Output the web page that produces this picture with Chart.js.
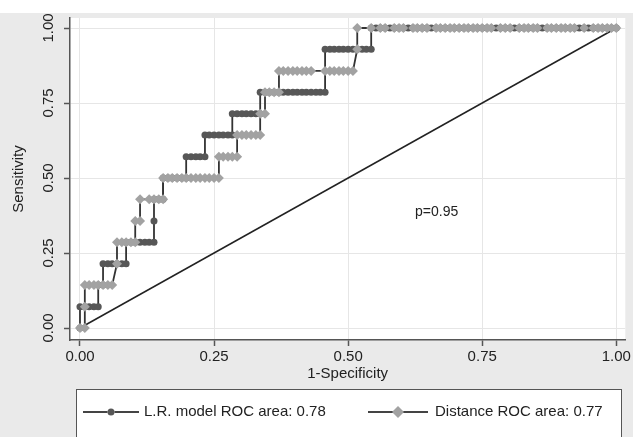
<!DOCTYPE html>
<html><head><meta charset="utf-8">
<script src="https://cdn.jsdelivr.net/npm/chart.js@4.4.1/dist/chart.umd.min.js"></script>
<style>html,body{margin:0;padding:0;background:#fff;}#wrap{width:633px;height:437px;}</style>
</head><body><div id="wrap"><canvas id="c" width="633" height="437"></canvas></div>
<script>
// ---- data ----
const xTickValues = [0, 0.25, 0.5, 0.75, 1];
const xTickLabels = ['0.00', '0.25', '0.50', '0.75', '1.00'];
const yTickValues = [0, 0.25, 0.5, 0.75, 1];
const yTickLabels = ['0.00', '0.25', '0.50', '0.75', '1.00'];
const xTitle = '1-Specificity';
const yTitle = 'Sensitivity';
const seriesNames = ['L.R. model ROC area: 0.78', 'Distance ROC area: 0.77'];
const pLabel = 'p=0.95';
const pLabelAt = [0.665, 0.387];
const referenceLine = [[0, 0], [1, 1]];

// L.R. model ROC curve: [1-specificity, sensitivity]
const lrCurve = [
  [0,0],
  [0,.071],[.009,.071],[.017,.071],[.026,.071],[.034,.071],
  [.034,.143],[.043,.143],
  [.043,.214],[.052,.214],[.060,.214],[.069,.214],[.078,.214],[.086,.214],
  [.086,.286],[.095,.286],[.103,.286],[.112,.286],[.121,.286],[.129,.286],[.138,.286],
  [.138,.357],
  [.138,.429],[.147,.429],[.155,.429],
  [.155,.5],[.164,.5],[.172,.5],[.181,.5],[.190,.5],[.198,.5],
  [.198,.571],[.207,.571],[.216,.571],[.224,.571],[.233,.571],
  [.233,.643],[.241,.643],[.250,.643],[.259,.643],[.267,.643],[.276,.643],[.284,.643],
  [.284,.714],[.293,.714],[.302,.714],[.310,.714],[.319,.714],[.328,.714],[.336,.714],
  [.336,.786],[.345,.786],[.353,.786],[.362,.786],[.371,.786],[.379,.786],[.388,.786],[.397,.786],[.405,.786],[.414,.786],[.422,.786],[.431,.786],[.440,.786],[.448,.786],[.457,.786],
  [.457,.929],[.466,.929],[.474,.929],[.483,.929],[.491,.929],[.500,.929],[.509,.929],[.517,.929],[.526,.929],[.534,.929],[.543,.929],
  [.543,1],[.552,1],[.560,1],[.569,1],[.578,1],[.586,1],[.595,1],[.603,1],[.612,1],[.621,1],[.629,1],[.638,1],[.647,1],[.655,1],[.664,1],[.672,1],[.681,1],[.690,1],[.698,1],[.707,1],[.716,1],[.724,1],[.733,1],[.741,1],[.750,1],[.759,1],[.767,1],[.776,1],[.784,1],[.793,1],[.802,1],[.810,1],[.819,1],[.828,1],[.836,1],[.845,1],[.853,1],[.862,1],[.871,1],[.879,1],[.888,1],[.897,1],[.905,1],[.914,1],[.922,1],[.931,1],[.940,1],[.948,1],[.957,1],[.966,1],[.974,1],[.983,1],[.991,1],[1,1]
];

// Distance ROC curve: [1-specificity, sensitivity]
const distCurve = [
  [0,0],[.009,0],
  [.009,.071],
  [.009,.143],[.017,.143],[.026,.143],[.034,.143],[.043,.143],[.052,.143],[.060,.143],
  [.069,.214],
  [.069,.286],[.078,.286],[.086,.286],[.095,.286],[.103,.286],
  [.103,.357],[.112,.357],
  [.112,.429],[.129,.429],[.138,.429],[.147,.429],[.155,.429],
  [.155,.5],[.164,.5],[.172,.5],[.181,.5],[.190,.5],[.198,.5],[.207,.5],[.216,.5],[.224,.5],[.233,.5],[.241,.5],[.250,.5],[.259,.5],
  [.259,.571],[.267,.571],[.276,.571],[.284,.571],[.293,.571],
  [.293,.643],[.302,.643],[.310,.643],[.319,.643],[.328,.643],[.336,.643],
  [.336,.714],[.345,.714],
  [.345,.786],[.353,.786],[.362,.786],[.371,.786],
  [.371,.857],[.379,.857],[.388,.857],[.397,.857],[.405,.857],[.414,.857],[.422,.857],[.431,.857],[.457,.857],[.466,.857],[.474,.857],[.483,.857],[.491,.857],[.500,.857],[.509,.857],
  [.517,.929],
  [.517,1],[.543,1],[.560,1],[.569,1],[.586,1],[.595,1],[.603,1],[.621,1],[.629,1],[.638,1],[.647,1],[.664,1],[.672,1],[.681,1],[.690,1],[.698,1],[.707,1],[.716,1],[.724,1],[.733,1],[.741,1],[.750,1],[.759,1],[.767,1],[.784,1],[.793,1],[.802,1],[.819,1],[.828,1],[.836,1],[.845,1],[.853,1],[.871,1],[.879,1],[.888,1],[.897,1],[.905,1],[.914,1],[.922,1],[.940,1],[.957,1],[.966,1],[.974,1],[.983,1],[.991,1],[1,1]
];

// ---- styles ----
const FONT = '"Liberation Sans", Arial, sans-serif';
const darkMarker = '#575757';
const lightMarker = '#a2a2a2';
const lineColor = '#333333';
const outerBg = '#eaeaea';

const framePlugin = {
  id: 'frame',
  beforeDraw(chart) {
    const {ctx, chartArea: a, width, height} = chart;
    ctx.save();
    ctx.fillStyle = '#ffffff';
    ctx.fillRect(0, 0, width, height);
    ctx.fillStyle = outerBg;
    ctx.fillRect(0, 13, width, height - 13);
    ctx.fillStyle = '#ffffff';
    ctx.fillRect(a.left, a.top, a.right - a.left, a.bottom - a.top);
    ctx.restore();
  },
  afterDatasetsDraw(chart) {
    const {ctx, scales} = chart;
    ctx.save();
    ctx.fillStyle = '#222';
    ctx.font = '14px ' + FONT;
    ctx.textAlign = 'center';
    ctx.textBaseline = 'middle';
    ctx.fillText(pLabel, scales.x.getPixelForValue(pLabelAt[0]), scales.y.getPixelForValue(pLabelAt[1]));
    ctx.restore();
  },
  afterDraw(chart) {
    const {ctx} = chart;
    ctx.save();
    // legend box
    ctx.fillStyle = '#ffffff';
    ctx.fillRect(76, 389, 546, 60);
    ctx.strokeStyle = '#555';
    ctx.lineWidth = 1;
    ctx.strokeRect(76.5, 389.5, 545, 60);
    const ly = 412;
    const ds = chart.data.datasets;
    // item 1
    ctx.strokeStyle = '#444';
    ctx.lineWidth = 2;
    ctx.beginPath(); ctx.moveTo(83, ly); ctx.lineTo(139, ly); ctx.stroke();
    Chart.helpers.drawPoint(ctx, {pointStyle: 'circle', radius: 3.5, borderWidth: 0, rotation: 0}, 111, ly);
    ctx.fillStyle = darkMarker;
    ctx.beginPath(); ctx.arc(111, ly, 3.5, 0, Math.PI * 2); ctx.fill();
    // item 2
    ctx.beginPath(); ctx.moveTo(368, ly); ctx.lineTo(428, ly); ctx.stroke();
    ctx.fillStyle = lightMarker;
    ctx.beginPath();
    ctx.moveTo(398, ly - 6); ctx.lineTo(404, ly); ctx.lineTo(398, ly + 6); ctx.lineTo(392, ly); ctx.closePath();
    ctx.fill();
    ctx.fillStyle = '#222';
    ctx.font = '15px ' + FONT;
    ctx.textAlign = 'left';
    ctx.textBaseline = 'middle';
    ctx.fillText(ds[1].label, 144, ly);
    ctx.fillText(ds[2].label, 435, ly);
    ctx.restore();
  }
};

const chart = new Chart(document.getElementById('c'), {
  type: 'line',
  data: {
    datasets: [
      { label: 'reference', data: referenceLine, borderColor: '#222', borderWidth: 1.5, pointRadius: 0, order: 3 },
      { label: seriesNames[0], data: lrCurve, borderColor: lineColor, borderWidth: 1.8,
        pointStyle: 'circle', pointRadius: 3.5, pointBackgroundColor: darkMarker, pointBorderWidth: 0, order: 2 },
      { label: seriesNames[1], data: distCurve, borderColor: lineColor, borderWidth: 1.8,
        pointStyle: 'rectRot', pointRadius: 5, pointBackgroundColor: lightMarker, pointBorderWidth: 0, order: 1 }
    ]
  },
  options: {
    responsive: false,
    animation: false,
    events: [],
    layout: { padding: { top: 18, right: 7, left: 0, bottom: 0 } },
    plugins: { legend: { display: false }, tooltip: { enabled: false }, title: { display: false } },
    scales: {
      x: {
        type: 'linear',
        min: -10 / 537, max: 1 + 9 / 537,
        afterBuildTicks: s => { s.ticks = xTickValues.map(v => ({ value: v })); },
        afterFit: s => { s.height = 97; },
        ticks: { autoSkip: false, maxRotation: 0, padding: 2, color: '#222', font: { family: FONT, size: 15 },
                 callback: (v) => xTickLabels[xTickValues.indexOf(v)] },
        grid: { color: '#e6e6e6', lineWidth: 1, tickLength: 6, tickColor: '#555', tickWidth: 1.5 },
        border: { color: '#555', width: 1.5 },
        title: { display: true, text: xTitle, color: '#222', font: { family: FONT, size: 15 }, padding: { top: 0, bottom: 54 } }
      },
      y: {
        type: 'linear',
        min: -12 / 300, max: 1 + 10 / 300,
        afterBuildTicks: s => { s.ticks = yTickValues.map(v => ({ value: v })); },
        afterFit: s => { s.width = 70; },
        ticks: { autoSkip: false, minRotation: 90, maxRotation: 90, crossAlign: 'center', padding: 1, color: '#222',
                 font: { family: FONT, size: 15 },
                 callback: (v) => yTickLabels[yTickValues.indexOf(v)] },
        grid: { color: '#e6e6e6', lineWidth: 1, tickLength: 6, tickColor: '#555', tickWidth: 1.5 },
        border: { color: '#555', width: 1.5 },
        title: { display: true, text: yTitle, color: '#222', font: { family: FONT, size: 15 }, padding: { top: 10, bottom: 0 } }
      }
    }
  },
  plugins: [framePlugin]
});
</script></body></html>
